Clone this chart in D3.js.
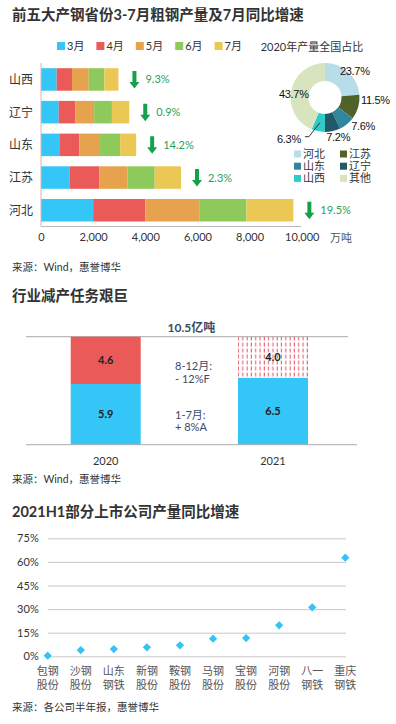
<!DOCTYPE html>
<html>
<head>
<meta charset="utf-8">
<script src="https://cdn.jsdelivr.net/npm/d3@7"></script>
<style>
  body { margin: 0; background: #fff; }
  svg { display: block; font-family: Lato, "Noto Sans CJK SC", sans-serif; }
  .title { font-size: 14.5px; font-weight: bold; fill: #333; }
  .src { font-size: 10.5px; fill: #333; }
</style>
</head>
<body>
<svg id="chart" width="396" height="724"></svg>
<script>
// chart 1: monthly output by province (万吨)
const provinces = ['山西', '辽宁', '山东', '江苏', '河北'];
const months = ['3月', '4月', '5月', '6月', '7月'];
const output3 = [600, 680, 730, 1090, 2000];
const output4 = [590, 630, 740, 1140, 2000];
const output5 = [640, 730, 795, 1090, 2070];
const output6 = [600, 680, 770, 1040, 1810];
const output7 = [540, 665, 615, 1010, 1800];
const julyDrop = [9.3, 0.9, 14.2, 2.3, 19.5];
const xTicks1 = [0, 2000, 4000, 6000, 8000, 10000];
const monthColors = ['#33c6f7', '#e95a58', '#e6a24c', '#8dc95b', '#eac853'];

// chart 1 inset: 2020 national share
const shareNames = ['河北', '江苏', '山东', '辽宁', '山西', '其他'];
const shareValues = [23.7, 11.5, 7.6, 7.2, 6.3, 43.7];
const shareColors = ['#b7dee8', '#4f6228', '#31859c', '#215968', '#2fcbc9', '#d7e4bd'];

// chart 2: national output (亿吨)
const years = ['2020', '2021'];
const firstPart = [5.9, 6.5];   // 1-7月
const secondPart = [4.6, 4.0];  // 8-12月

// chart 3: H1 2021 yoy growth (%)
const companies = ['包钢股份', '沙钢股份', '山东钢铁', '新钢股份', '鞍钢股份',
  '马钢股份', '宝钢股份', '河钢股份', '八一钢铁', '重庆钢铁'];
const growth = [0.4, 4.0, 4.6, 5.7, 7.0, 11.2, 11.6, 19.7, 31.1, 62.7];
const yTicks3 = [0, 15, 30, 45, 60, 75];

const svg = d3.select('#chart');

// ---------- chart 1 ----------
svg.append('text').attr('class', 'title').attr('x', 12).attr('y', 20)
  .text('前五大产钢省份3-7月粗钢产量及7月同比增速');

const series = [output3, output4, output5, output6, output7];
const rows = provinces.map((p, i) => {
  const r = { name: p };
  months.forEach((m, j) => { r[m] = series[j][i]; });
  return r;
});
const stacked = d3.stack().keys(months)(rows);

const x1 = d3.scaleLinear().domain([0, 10000]).range([41, 301.7]);
const y1 = d3.scaleBand().domain(provinces).range([63.1, 226.6])
  .paddingInner(0.312).paddingOuter(0.156);

// legend
const leg1 = svg.append('g');
months.forEach((m, i) => {
  const gx = 57 + i * 39.4;
  leg1.append('rect').attr('x', gx).attr('y', 42).attr('width', 8).attr('height', 8)
    .attr('fill', monthColors[i]);
  leg1.append('text').attr('x', gx + 10).attr('y', 50).attr('font-size', 11)
    .attr('fill', '#333').text(m);
});

svg.append('g').selectAll('g').data(stacked).join('g')
  .attr('fill', (d, i) => monthColors[i])
  .selectAll('rect').data(d => d).join('rect')
  .attr('x', d => x1(d[0]))
  .attr('width', d => x1(d[1]) - x1(d[0]))
  .attr('y', d => y1(d.data.name))
  .attr('height', y1.bandwidth());

// axes lines
svg.append('line').attr('x1', 41).attr('x2', 41).attr('y1', 63).attr('y2', 226.5)
  .attr('stroke', '#d8b4b4').attr('stroke-width', 1);
svg.append('line').attr('x1', 41).attr('x2', 301).attr('y1', 226.5).attr('y2', 226.5)
  .attr('stroke', '#bbb').attr('stroke-width', 1);

const xAxis1 = svg.append('g').attr('transform', 'translate(0,230)')
  .call(d3.axisBottom(x1).tickValues(xTicks1).tickFormat(d3.format(',')).tickSize(0));
xAxis1.select('.domain').remove();
xAxis1.selectAll('text').attr('font-size', 11).attr('fill', '#333')
  .attr('font-family', 'Lato, sans-serif').attr('dy', '0.71em');

svg.append('g').selectAll('text').data(provinces).join('text')
  .attr('x', 33).attr('y', d => y1(d) + y1.bandwidth() / 2 + 4.5)
  .attr('text-anchor', 'end').attr('font-size', 12).attr('fill', '#333').text(d => d);

svg.append('text').attr('x', 341).attr('y', 242).attr('text-anchor', 'middle')
  .attr('font-size', 11).attr('fill', '#555').text('万吨');

// drop arrows and labels
const totals = rows.map(r => d3.sum(months, m => r[m]));
const arrows = svg.append('g');
provinces.forEach((p, i) => {
  const ax = x1(totals[i]) + 16;
  const cy = y1(p) + y1.bandwidth() / 2;
  arrows.append('path')
    .attr('d', `M${ax - 2},${cy - 8.5} h4 v11 h3 l-5,6.5 l-5,-6.5 h3 Z`)
    .attr('fill', '#17a04a');
  arrows.append('text').attr('x', ax + 11).attr('y', cy + 4)
    .attr('font-size', 11).attr('fill', '#2e9e55')
    .text(julyDrop[i].toFixed(1) + '%');
});

svg.append('text').attr('class', 'src').attr('x', 12).attr('y', 271)
  .text('来源：Wind，惠誉博华');

// ---------- pie ----------
const pcx = 325, pcy = 97.5, rOut = 34.5, rIn = 16.5;
svg.append('text').attr('x', 312).attr('y', 51).attr('text-anchor', 'middle')
  .attr('font-size', 11).attr('fill', '#333').text('2020年产量全国占比');

const pie = d3.pie().sort(null).value(d => d)(shareValues);
const arc = d3.arc().innerRadius(rIn).outerRadius(rOut);
const gp = svg.append('g').attr('transform', `translate(${pcx},${pcy})`);
gp.selectAll('path').data(pie).join('path')
  .attr('d', arc).attr('fill', (d, i) => shareColors[i]);

const labelArc = d3.arc().innerRadius(41).outerRadius(41);
const midArc = d3.arc().innerRadius((rIn + rOut) / 2).outerRadius((rIn + rOut) / 2);
const labelNudge = [[2, 4], [11, -9], [12, -3], [4, 0], [-28, 1], [9, 4.5]];
gp.selectAll('text').data(pie).join('text')
  .attr('x', (d, i) => labelArc.centroid(d)[0] + labelNudge[i][0])
  .attr('y', (d, i) => labelArc.centroid(d)[1] + labelNudge[i][1] + 4)
  .attr('text-anchor', 'middle').attr('font-size', 11)
  .attr('font-family', '"Liberation Sans", Arial, sans-serif')
  .attr('letter-spacing', '-0.3')
  .attr('fill', '#111').text(d => d.data.toFixed(1) + '%');
// leader line for 山西
const sx = pie[4];
const mc = midArc.centroid(sx);
const lc = labelArc.centroid(sx);
gp.append('path')
  .attr('d', `M${lc[0] + labelNudge[4][0] + 16},${lc[1] + labelNudge[4][1] - 2} h4 L${mc[0]},${mc[1]}`)
  .attr('fill', 'none').attr('stroke', '#333').attr('stroke-width', 1);

const leg2 = svg.append('g');
shareNames.forEach((n, i) => {
  const col = i % 2, row = Math.floor(i / 2);
  const lx = 294 + col * 46, ly = 154 + row * 12.2;
  leg2.append('rect').attr('x', lx).attr('y', ly - 3.5).attr('width', 7).attr('height', 7)
    .attr('fill', shareColors[i]);
  leg2.append('text').attr('x', lx + 9).attr('y', ly + 4).attr('font-size', 11)
    .attr('fill', '#333').text(n);
});

// ---------- chart 2 ----------
svg.append('text').attr('class', 'title').attr('x', 12).attr('y', 301)
  .text('行业减产任务艰巨');

const defs = svg.append('defs');
const pat = defs.append('pattern').attr('id', 'hatch').attr('patternUnits', 'userSpaceOnUse')
  .attr('width', 4.3).attr('height', 6);
pat.append('line').attr('x1', 2).attr('x2', 2).attr('y1', 0.5).attr('y2', 4.5)
  .attr('stroke', '#e05566').attr('stroke-width', 1);

const x2 = d3.scaleBand().domain(years).range([28.9, 349.8])
  .paddingInner(0.5816).paddingOuter(0.25);
const y2 = d3.scaleLinear().domain([0, 10.5]).range([444.7, 336.7]);

svg.append('line').attr('x1', 26).attr('x2', 348).attr('y1', y2(10.5)).attr('y2', y2(10.5))
  .attr('stroke', '#aaa');

const rows2 = years.map((y, i) => ({ year: y, a: firstPart[i], b: secondPart[i] }));
const st2 = d3.stack().keys(['a', 'b'])(rows2);
const fills2 = [() => '#33c6f7', (d, i) => i === 0 ? '#e95a58' : 'url(#hatch)'];
st2.forEach((s, k) => {
  svg.append('g').selectAll('rect').data(s).join('rect')
    .attr('x', d => x2(d.data.year)).attr('width', x2.bandwidth())
    .attr('y', d => y2(d[1])).attr('height', d => y2(d[0]) - y2(d[1]))
    .attr('fill', fills2[k]);
  svg.append('g').selectAll('text').data(s).join('text')
    .attr('x', d => x2(d.data.year) + x2.bandwidth() / 2)
    .attr('y', d => (y2(d[0]) + y2(d[1])) / 2 + 4)
    .attr('text-anchor', 'middle').attr('font-size', 11).attr('font-weight', 'bold')
    .attr('fill', '#222').text(d => (d[1] - d[0]).toFixed(1));
});

svg.append('line').attr('x1', 26).attr('x2', 357).attr('y1', y2(0)).attr('y2', y2(0))
  .attr('stroke', '#aaa');

const xAxis2 = svg.append('g').attr('transform', `translate(0,${y2(0) + 9})`)
  .call(d3.axisBottom(x2).tickSize(0));
xAxis2.select('.domain').remove();
xAxis2.selectAll('text').attr('font-size', 11).attr('fill', '#333')
  .attr('font-family', 'Lato, sans-serif').attr('dy', '0.71em');

const mid2 = (x2('2020') + x2('2021') + x2.bandwidth()) / 2;
svg.append('text').attr('x', mid2 + 2).attr('y', 332).attr('text-anchor', 'middle')
  .attr('font-size', 12).attr('font-weight', 'bold').attr('fill', '#3d4a66')
  .text((firstPart[1] + secondPart[1]).toFixed(1) + '亿吨');

const notes = [['8-12月:', 370], ['- 12%F', 383], ['1-7月:', 419], ['+ 8%A', 431]];
svg.append('g').selectAll('text').data(notes).join('text')
  .attr('x', 175).attr('y', d => d[1]).attr('font-size', 11).attr('fill', '#3d4a66')
  .text(d => d[0]);

svg.append('text').attr('class', 'src').attr('x', 12).attr('y', 483)
  .text('来源：Wind，惠誉博华');

// ---------- chart 3 ----------
svg.append('text').attr('class', 'title').attr('x', 12).attr('y', 517)
  .text('2021H1部分上市公司产量同比增速');

const x3 = d3.scalePoint().domain(companies).range([47.7, 345.3]);
const y3 = d3.scaleLinear().domain([0, 75]).range([656.3, 538.3]);

const yAxis3 = svg.append('g').attr('transform', 'translate(47.7,0)')
  .call(d3.axisLeft(y3).tickValues(yTicks3).tickFormat(d => d + '%')
    .tickSize(-298.3).tickPadding(9));
yAxis3.select('.domain').remove();
yAxis3.selectAll('line').attr('stroke', '#c8c8c8');
yAxis3.selectAll('text').attr('font-size', 11).attr('fill', '#333')
  .attr('font-family', 'Lato, sans-serif');

const diamond = d3.symbol().type(d3.symbolSquare).size(34);
svg.append('g').selectAll('path').data(companies).join('path')
  .attr('d', diamond)
  .attr('transform', (d, i) => `translate(${x3(d)},${y3(growth[i])}) rotate(45)`)
  .attr('fill', '#35c3f3');

const cl = svg.append('g').selectAll('text').data(companies).join('text')
  .attr('text-anchor', 'middle').attr('font-size', 11).attr('fill', '#555');
cl.append('tspan').attr('x', d => x3(d)).attr('y', 675).text(d => d.slice(0, 2));
cl.append('tspan').attr('x', d => x3(d)).attr('y', 688.5).text(d => d.slice(2));

svg.append('text').attr('class', 'src').attr('x', 12).attr('y', 711)
  .text('来源：各公司半年报，惠誉博华');
</script>
</body>
</html>
